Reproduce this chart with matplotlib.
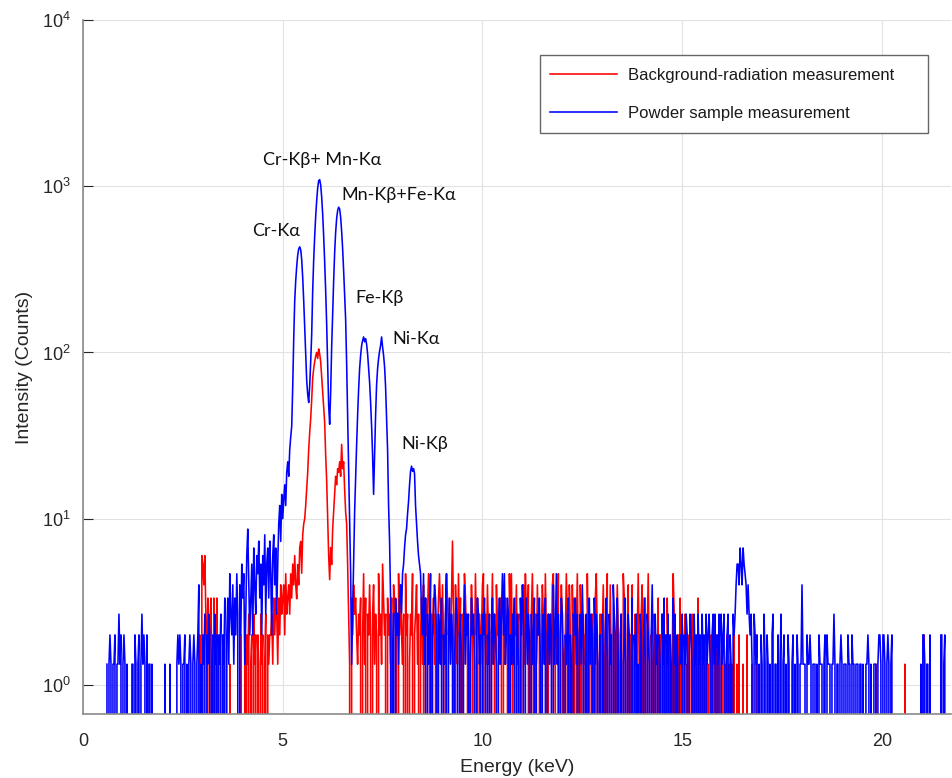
import numpy as np
import matplotlib
matplotlib.use("Agg")
import matplotlib.pyplot as plt
from matplotlib import font_manager
from matplotlib.patches import Rectangle
from matplotlib.ticker import FixedLocator, LogLocator, NullLocator, LogFormatterSciNotation

# ---------------------------------------------------------------------------
# Spectrum data.  Channel width is 25 eV.  Noisy stretches are stored as raw
# counts, one base-36 character per channel; peak stretches are stored as
# intensity values directly.
# ---------------------------------------------------------------------------
STEP = 0.025          # keV per channel
COUNT_SCALE = 2 / 3   # raw counts -> plotted intensity

# Powder sample measurement
powder_low_start = 0.600
powder_low = (
    "202320223022423023202" "0000" "2203202302423203022020" "00000000000"
    "2000020" "00000" "232320223020232023202360"
    "203240324302304230324032503527" "43625374063857249d63"
    "583a6497b58396c48a5b739c6a48"
)
powder_peak_start = 4.900
powder_peak = [
    9.3, 12, 7.3, 14, 10, 13, 16, 12, 19, 22, 18, 26, 31, 36, 62, 120, 205, 270,
    330, 385, 420, 432, 415, 362, 282, 205, 140, 96, 68, 56, 50, 63, 88, 128,
    235, 360, 500, 660, 820, 975, 1080, 1095, 1020, 860, 680, 500, 350, 235,
    148, 84, 48, 37, 58, 108, 170, 270, 400, 530, 640, 715, 748, 730, 650, 535,
    420, 310, 220, 158, 86, 42, 22, 10, 4.7, 1.33, 2.7, 5.3, 11, 18, 28, 42,
    60, 80, 96, 110, 118, 124, 116, 121, 112, 98, 80, 66, 50, 36, 24, 14, 24,
    42, 64, 80, 92, 102, 110, 124, 108, 96, 82, 62, 40, 26, 12, 7.3, 3.3, 0,
    1.33, 2.7, 0, 3.3, 2, 2.7, 1.33, 3.3, 4, 2.7, 4.7, 5.3, 6.7, 8, 8.7, 10.7,
    12.7, 16, 19.3, 20.7, 19.3, 20, 18.7, 12, 9.3, 7.3, 6, 5.3, 4.7, 2.7,
]
powder_tail_start = 8.500
powder_tail = (
    # 8.5 - 10.4 keV
    "3725042370" "3465304325" "0324703524" "3024530342" "0362434025"
    "3420354230" "4352032403" "52432035"
    # 10.4 - 12.9 keV
    "2473723540" "3242503420" "5364035243" "0423502435" "2034250342"
    "4306237240" "3542032450" "3204352403" "4263024035" "2430524302"
    # 12.9 - 14.9 keV
    "3042035204" "2306430520" "3402350243" "0250324020" "4302520432"
    "0362042303" "2042503240" "3205240302"
    # 14.9 - 16.3 keV
    "3240324302" "4320423042" "3042304234" "2034240324" "0423402340" "32043"
    # 16.3 - 16.8 keV cluster
    "46886a86a876464342043"
    # 16.8 - 17.9 keV
    "2302032042" "0320203402" "2030240230" "2032002302" "0320"
    # 17.9 - 19.9 keV
    "2262220322" "3202220203" "2220230322" "2022420220" "2320222032"
    "2032202220" "2202002232" "0200222023"
    # 19.9 - 21.7 keV
    "3203320232023" "0000000000000000000000000000" "20332022030"
    "000000000" "33023000000"
)

# Background-radiation measurement
background_low_start = 2.850
background_low = (
    "000" "3098694250352053050" "00002000000200000000003000"
    "20324023042303204230240323" "3425354253645637456475869"
)
background_peak_start = 5.325
background_peak = [
    4.0, 3.3, 5.3, 4.0, 6.7, 7.3, 4.7, 8, 9.3, 10, 12, 15, 19, 26, 33, 40, 52,
    70, 80, 88, 95, 100, 92, 105, 98, 88, 72, 58, 47, 38, 24, 17, 10, 6, 4.3,
    6.7, 5.3, 8.7, 11, 14, 18, 16, 20, 19, 22, 18, 28, 20, 22, 15, 11, 9.3,
    5.3, 2.7, 1.33,
]
background_tail_start = 6.700
background_tail = (
    # 6.7 - 9.2 keV
    "0536453243" "5037250436" "3046243073" "4285340534" "2506452073"
    "6324073402" "4370346240" "3526053475" "0435240357" "4263047534"
    # 9.2 - 11.7 keV
    "35b4063273" "5042753402" "3640273504" "2367042634" "0372406342"
    "5306253407" "3720436240" "4306274360" "2473042634" "0364273042"
    # 11.7 - 14.2 keV
    "4267034270" "3640237406" "3062503720" "6304230724" "0342057302"
    "4036204702" "6203402630" "2407520360" "3260240372" "0460250372"
    # 14.2 - 15.4 keV
    "0320430250" "3042030520" "3027402030" "5020340203" "0240302050"
    # 15.4 - 16.9 keV
    "2030203020" "0303203020" "0230020302" "0020300203" "0002000300"
    "0020003000"
    # 16.9 - 21.7 keV
    "0000000000" "0000000000" "0000000000" "0000000000" "0000000000"
    "0000000000" "0000000000" "0000000000" "0000000000" "0000000000"
    "0000000000" "000000" "2" "0000000000" "0000000000" "00000000" "2"
    "0000000000" "00000000" "3" "0000000000" "0000000000" "00000"
)

peak_labels = ["Cr-Kα", "Cr-Kβ+ Mn-Kα", "Mn-Kβ+Fe-Kα", "Fe-Kβ", "Ni-Kα", "Ni-Kβ"]
label_energy = [4.23, 4.50, 6.48, 6.83, 7.74, 7.96]
label_level = [540, 1430, 890, 214, 120, 28]

x_ticks = [0, 5, 10, 15, 20]
series_names = ["Background-radiation measurement", "Powder sample measurement"]


def counts_segment(start, digits):
    vals = np.array([int(c, 36) for c in digits], dtype=float) * COUNT_SCALE
    energy = start + STEP * np.arange(len(vals))
    return energy, vals


def value_segment(start, values):
    vals = np.asarray(values, dtype=float)
    energy = start + STEP * np.arange(len(vals))
    return energy, vals


def assemble(*segments):
    e = np.concatenate([s[0] for s in segments])
    v = np.concatenate([s[1] for s in segments])
    return e, v


powder_e, powder_v = assemble(
    counts_segment(powder_low_start, powder_low),
    value_segment(powder_peak_start, powder_peak),
    counts_segment(powder_tail_start, powder_tail),
)
background_e, background_v = assemble(
    counts_segment(background_low_start, background_low),
    value_segment(background_peak_start, background_peak),
    counts_segment(background_tail_start, background_tail),
)

# ---------------------------------------------------------------------------
# Fonts
# ---------------------------------------------------------------------------
def pick_font(candidates):
    for name in candidates:
        try:
            font_manager.findfont(name, fallback_to_default=False)
            return name
        except Exception:
            continue
    return "DejaVu Sans"


axis_font = pick_font(["Liberation Sans Narrow", "Liberation Sans", "DejaVu Sans"])
note_font = pick_font(["Lato", "Open Sans", "Noto Sans"])
plt.rcParams["font.family"] = [axis_font, "DejaVu Sans"]
plt.rcParams["mathtext.default"] = "regular"

# ---------------------------------------------------------------------------
# Figure
# ---------------------------------------------------------------------------
fig = plt.figure(figsize=(9.53, 7.78), dpi=100)
ax = fig.add_axes([0.0871, 0.0823, 0.9108, 0.892])

ax.plot(background_e, background_v, color="#ff0000", lw=1.15, label=series_names[0])
ax.plot(powder_e, powder_v, color="#0000ff", lw=1.15, label=series_names[1])

ax.set_yscale("log")
ax.set_xlim(0, 21.73)
ax.set_ylim(0.669, 1e4)

ax.xaxis.set_major_locator(FixedLocator(x_ticks))
ax.yaxis.set_major_locator(LogLocator(base=10, numticks=10))
ax.yaxis.set_minor_locator(NullLocator())
ax.yaxis.set_major_formatter(LogFormatterSciNotation())

ax.grid(True, which="major", color="#e2e2e2", lw=0.8)
ax.set_axisbelow(True)
for side in ("top", "right"):
    ax.spines[side].set_visible(False)
for side in ("left", "bottom"):
    ax.spines[side].set_color("#8a8a8a")
    ax.spines[side].set_linewidth(1.2)

ax.tick_params(axis="both", direction="in", length=7, width=0.8, color="#262626",
               labelsize=13, labelcolor="#262626", pad=9)
ax.tick_params(axis="x", length=0, pad=14)

ax.set_xlabel("Energy (keV)", fontsize=14, color="#262626", labelpad=6)
ax.set_ylabel("Intensity (Counts)", fontsize=14, color="#262626", labelpad=6)

for text, e, lvl in zip(peak_labels, label_energy, label_level):
    ax.text(e, lvl, text, fontsize=13, ha="left", va="center", color="#111111",
            family=[note_font, "DejaVu Sans"])

# Legend: white box with a thin grey border, entries placed inside it
box = Rectangle((0.5265, 0.8372), 0.447, 0.1124, transform=ax.transAxes,
                facecolor="white", edgecolor="#666666", lw=1.0, zorder=4)
ax.add_patch(box)
leg = ax.legend(loc="upper left", bbox_to_anchor=(0.538, 0.9308), fontsize=12,
                handlelength=4.0, labelspacing=1.38, borderpad=0.0,
                borderaxespad=0.0, handletextpad=0.66, frameon=False)
leg.set_zorder(5)
for txt in leg.get_texts():
    txt.set_color("#1a1a1a")

fig.savefig("out.png", dpi=100, facecolor="white")
